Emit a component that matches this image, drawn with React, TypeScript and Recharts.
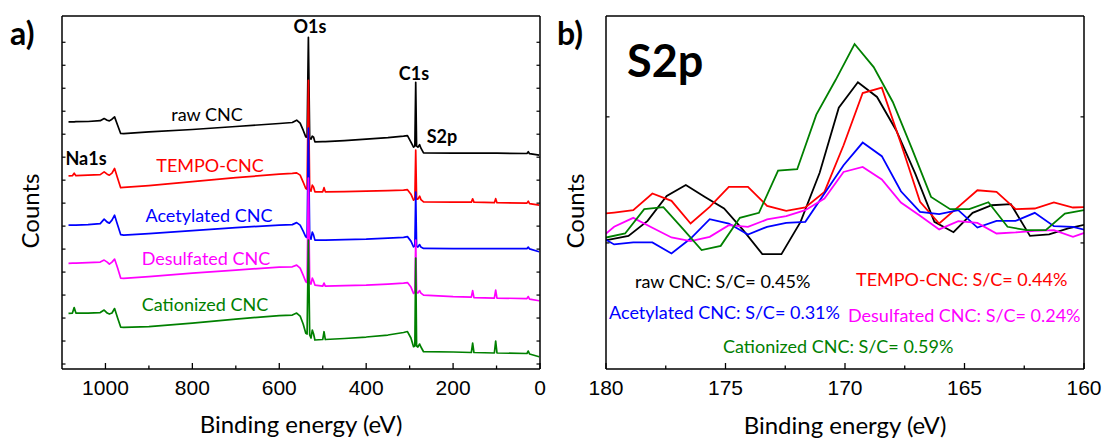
import React from "react";
import { LineChart, Line, XAxis, YAxis } from "recharts";

// ---- panel a) survey spectra ----
const energies = [1085, 1076, 1072, 1068, 1040, 1012, 1003, 996, 991, 985, 979, 972, 965, 958, 900, 800, 700, 600, 570, 560, 552, 545, 539, 536, 533, 530, 527, 524, 521, 518, 500, 497, 494, 450, 400, 350, 314, 305, 297, 291, 288, 286, 284, 281, 277, 274, 268, 200, 158, 155, 152, 105, 102, 99, 30, 27, 24, 2];
const rawCnc = [24730, 24730, 24730, 24750, 24770, 24850, 25070, 24900, 24830, 25000, 25230, 24400, 23570, 23550, 23730, 23970, 24270, 24570, 24670, 24900, 24600, 23900, 23230, 23200, 33200, 23100, 23000, 23300, 23200, 22730, 22750, 22750, 22750, 22850, 23000, 23150, 23300, 23350, 22700, 22200, 22300, 28700, 22300, 22200, 22450, 22100, 21630, 21600, 21600, 21600, 21600, 21600, 21600, 21600, 21570, 21750, 21550, 21400];
const tempoCnc = [19330, 19350, 19600, 19350, 19400, 19450, 19730, 19500, 19400, 19600, 20070, 19100, 18150, 18170, 18350, 18750, 19150, 19500, 19570, 19630, 19400, 18700, 18070, 18000, 28900, 17900, 17800, 18400, 18200, 17730, 17730, 18150, 17730, 17750, 17800, 17850, 17900, 17950, 17500, 16900, 17000, 21900, 17000, 17000, 17300, 16950, 16730, 16700, 16700, 17030, 16700, 16650, 17050, 16650, 16600, 16800, 16550, 16400];
const acetylatedCnc = [14400, 14400, 14400, 14400, 14450, 14550, 15000, 14700, 14600, 14900, 15400, 14400, 13450, 13400, 13550, 13850, 14150, 14400, 14450, 14650, 14400, 13800, 13230, 13150, 24100, 13100, 13000, 13700, 13400, 12900, 12900, 12900, 12900, 12950, 13000, 13100, 13170, 13250, 12800, 12230, 12300, 17700, 12300, 12200, 12450, 12200, 12070, 12050, 12050, 12050, 12050, 12050, 12050, 12050, 12050, 12200, 12020, 11730];
const desulfatedCnc = [10570, 10600, 10600, 10600, 10650, 10700, 10900, 10700, 10500, 10700, 11000, 10100, 9100, 9070, 9250, 9600, 9900, 10200, 10230, 10400, 10100, 9400, 8730, 8650, 19100, 8600, 8500, 9100, 8800, 8400, 8300, 8600, 8300, 8350, 8400, 8500, 8600, 8650, 8200, 7570, 7650, 12900, 7650, 7600, 7850, 7600, 7400, 7250, 7200, 7850, 7150, 7100, 7900, 7100, 7050, 7250, 7000, 6830];
const cationizedCnc = [5570, 5600, 6150, 5600, 5600, 5650, 5900, 5600, 5500, 5600, 6050, 5100, 4200, 4170, 4250, 4600, 5000, 5350, 5400, 5600, 5300, 4500, 3570, 3500, 12900, 3400, 3100, 3900, 3500, 2900, 2950, 3730, 2950, 3050, 3200, 3400, 3650, 3750, 3100, 2230, 2300, 11100, 2300, 2200, 2500, 2200, 1730, 1700, 1650, 2600, 1650, 1600, 2800, 1600, 1550, 1800, 1500, 1230];
const surveyTicks = [0, 100, 200, 300, 400, 500, 600, 700, 800, 900, 1000];
const surveyCountTicks = [500, 2800, 5100, 7400, 9700, 12000, 14300, 16600, 18900, 21200, 23500, 25800, 28100, 30400, 32700];

// ---- panel b) S2p region ----
const s2pEnergyBlack = [180.66, 179.86, 179.06, 178.26, 177.46, 176.66, 175.86, 175.06, 174.26, 173.46, 172.66, 171.86, 171.06, 170.26, 169.46, 168.66, 167.86, 167.06, 166.26, 165.46, 164.66, 163.86, 163.06, 162.26, 161.46, 160.66, 159.86];
const s2pEnergyGreen = [180.0, 179.2, 178.4, 177.6, 176.8, 176.0, 175.2, 174.4, 173.6, 172.8, 172.0, 171.2, 170.4, 169.6, 168.8, 168.0, 167.2, 166.4, 165.6, 164.8, 164.0, 163.2, 162.4, 161.6, 160.8, 160.0];
const s2pEnergyOther = [180.46, 179.66, 178.86, 178.06, 177.26, 176.46, 175.66, 174.86, 174.06, 173.26, 172.46, 171.66, 170.86, 170.06, 169.26, 168.46, 167.66, 166.86, 166.06, 165.26, 164.46, 163.66, 162.86, 162.06, 161.26, 160.46, 159.66];
const s2pRaw = [1000, 1027, 1056, 1175, 1373, 1460, 1365, 1273, 1101, 911, 911, 1167, 1556, 2073, 2274, 2158, 1894, 1550, 1167, 1085, 1239, 1299, 1307, 1056, 1067, 1115, 1149];
const s2pTempo = [1225, 1241, 1260, 1392, 1334, 1154, 1286, 1445, 1445, 1294, 1254, 1281, 1405, 1775, 2189, 2232, 1788, 1326, 1154, 1286, 1418, 1405, 1268, 1273, 1321, 1281, 1286];
const s2pAcetylated = [1075, 988, 1004, 1004, 916, 1035, 1188, 1154, 1067, 1128, 1159, 1167, 1392, 1616, 1796, 1688, 1410, 1247, 1228, 1260, 1122, 1175, 1175, 1239, 1133, 1128, 1088];
const s2pDesulfated = [1001, 1128, 1199, 1120, 1043, 1014, 1048, 1141, 1128, 1186, 1212, 1260, 1352, 1563, 1603, 1503, 1321, 1215, 1107, 1173, 1159, 1075, 1083, 1096, 1101, 1048, 1101];
const s2pCationized = [1043, 1075, 1268, 1284, 1115, 943, 977, 1199, 1239, 1574, 1585, 2018, 2290, 2578, 2395, 2118, 1748, 1365, 1268, 1268, 1323, 1128, 1101, 1101, 1233, 1260];
const s2pTicks = [160, 162.5, 165, 167.5, 170, 172.5, 175, 177.5, 180];
const s2pCountTicks = [1000, 2000];

const FONT = "Lato, 'Open Sans', sans-serif";
const TICK_FONT = "'Liberation Sans', Arial, sans-serif";
const AXIS = { stroke: "#000", strokeWidth: 1.5 };

const surveyData = energies.map((e, i) => ({
  e,
  raw: rawCnc[i],
  tempo: tempoCnc[i],
  acet: acetylatedCnc[i],
  desulf: desulfatedCnc[i],
  cation: cationizedCnc[i],
}));

const pts = (xs: number[], ys: number[]) => xs.map((x, i) => ({ x, y: ys[i] }));

// inward tick marks, labels only on the major ones
function XTick(props: any) {
  const { x, y, payload, step } = props;
  const v = payload.value;
  const major = Math.abs(v / step - Math.round(v / step)) < 1e-6;
  return (
    <g>
      <line x1={x} x2={x} y1={y} y2={y - (major ? 6 : 3.5)} stroke="#000" strokeWidth={1.3} />
      {major && (
        <text x={x} y={y + 26} textAnchor="middle" fontFamily={TICK_FONT} fontSize={21} fill="#000">
          {v}
        </text>
      )}
    </g>
  );
}

function YTick(props: any) {
  const { x, y, side } = props;
  const dx = side === "left" ? 3.5 : -3.5;
  return <line x1={x} x2={x + dx} y1={y} y2={y} stroke="#000" strokeWidth={1.2} />;
}

export default function App() {
  return (
    <div style={{ position: "absolute", left: 0, top: 0, width: 1104, height: 442, background: "#fff" }}>
      <div style={{ position: "absolute", left: 0, top: 0 }}>
        <LineChart width={560} height={442} data={surveyData} margin={{ top: 15, right: 19, bottom: 72, left: 61 }}>
          <XAxis
            dataKey="e"
            type="number"
            domain={[0, 1100]}
            reversed
            ticks={surveyTicks}
            interval={0}
            height={1}
            tickSize={0}
            tickMargin={0}
            tickLine={false}
            axisLine={AXIS}
            tick={(p: any) => <XTick {...p} step={200} />}
          />
          <XAxis xAxisId="top" orientation="top" type="number" domain={[0, 1100]} height={1} tick={false} tickLine={false} axisLine={AXIS} />
          <YAxis
            type="number"
            domain={[0, 35330]}
            ticks={surveyCountTicks}
            interval={0}
            width={1}
            tickSize={0}
            tickMargin={0}
            tickLine={false}
            axisLine={AXIS}
            tick={(p: any) => <YTick {...p} side="left" />}
          />
          <YAxis
            yAxisId="r"
            orientation="right"
            type="number"
            domain={[0, 35330]}
            allowDataOverflow
            ticks={surveyCountTicks}
            interval={0}
            width={1}
            tickSize={0}
            tickMargin={0}
            tickLine={false}
            axisLine={AXIS}
            tick={(p: any) => <YTick {...p} side="right" />}
          />
          <Line type="linear" dataKey="raw" stroke="#000000" strokeWidth={1.7} strokeLinejoin="round" dot={false} isAnimationActive={false} />
          <Line type="linear" dataKey="tempo" stroke="#ff0000" strokeWidth={1.7} strokeLinejoin="round" dot={false} isAnimationActive={false} />
          <Line type="linear" dataKey="acet" stroke="#0000ff" strokeWidth={1.7} strokeLinejoin="round" dot={false} isAnimationActive={false} />
          <Line type="linear" dataKey="desulf" stroke="#ff00ff" strokeWidth={1.7} strokeLinejoin="round" dot={false} isAnimationActive={false} />
          <Line type="linear" dataKey="cation" stroke="#008000" strokeWidth={1.7} strokeLinejoin="round" dot={false} isAnimationActive={false} />
        </LineChart>
      </div>

      <div style={{ position: "absolute", left: 550, top: 0 }}>
        <LineChart width={554} height={442} margin={{ top: 15, right: 19, bottom: 72, left: 55 }}>
          <XAxis
            dataKey="x"
            type="number"
            domain={[160, 180]}
            reversed
            allowDataOverflow
            ticks={s2pTicks}
            interval={0}
            height={1}
            tickSize={0}
            tickMargin={0}
            tickLine={false}
            axisLine={AXIS}
            tick={(p: any) => <XTick {...p} step={5} />}
          />
          <XAxis xAxisId="top" orientation="top" type="number" domain={[160, 180]} height={1} tick={false} tickLine={false} axisLine={AXIS} />
          <YAxis
            type="number"
            domain={[0, 2800]}
            allowDataOverflow
            ticks={s2pCountTicks}
            interval={0}
            width={1}
            tickSize={0}
            tickMargin={0}
            tickLine={false}
            axisLine={AXIS}
            tick={(p: any) => <YTick {...p} side="left" />}
          />
          <YAxis
            yAxisId="r"
            orientation="right"
            type="number"
            domain={[0, 2800]}
            allowDataOverflow
            ticks={s2pCountTicks}
            interval={0}
            width={1}
            tickSize={0}
            tickMargin={0}
            tickLine={false}
            axisLine={AXIS}
            tick={(p: any) => <YTick {...p} side="right" />}
          />
          <Line data={pts(s2pEnergyBlack, s2pRaw)} dataKey="y" stroke="#000000" strokeWidth={1.8} dot={false} isAnimationActive={false} />
          <Line data={pts(s2pEnergyOther, s2pTempo)} dataKey="y" stroke="#ff0000" strokeWidth={1.8} dot={false} isAnimationActive={false} />
          <Line data={pts(s2pEnergyOther, s2pAcetylated)} dataKey="y" stroke="#0000ff" strokeWidth={1.8} dot={false} isAnimationActive={false} />
          <Line data={pts(s2pEnergyOther, s2pDesulfated)} dataKey="y" stroke="#ff00ff" strokeWidth={1.8} dot={false} isAnimationActive={false} />
          <Line data={pts(s2pEnergyGreen, s2pCationized)} dataKey="y" stroke="#008000" strokeWidth={1.8} dot={false} isAnimationActive={false} />
        </LineChart>
      </div>

      <svg width={1104} height={442} style={{ position: "absolute", left: 0, top: 0, pointerEvents: "none" }} fontFamily={FONT}>
        {/* panel a */}
        <text x={10} y={45} fontSize={32} fontWeight={700}>a)</text>
        <text x={39} y={211} fontSize={24} textAnchor="middle" transform="rotate(-90 39 211)">Counts</text>
        <text x={301} y={433} fontSize={24} textAnchor="middle">Binding energy (eV)</text>
        <g fontSize={18} fontWeight={700} textAnchor="middle">
          <text x={310} y={33}>O1s</text>
          <text x={414} y={80}>C1s</text>
          <text x={442} y={143}>S2p</text>
          <text x={86} y={165}>Na1s</text>
        </g>
        <g fontSize={18} textAnchor="middle">
          <text x={207} y={121} fill="#000000">raw CNC</text>
          <text x={210} y={172} fill="#ff0000">TEMPO-CNC</text>
          <text x={209} y={222} fill="#0000ff">Acetylated CNC</text>
          <text x={206} y={265} fill="#ff00ff">Desulfated CNC</text>
          <text x={205} y={311} fill="#008000">Cationized CNC</text>
        </g>

        {/* panel b */}
        <text x={557} y={45} fontSize={32} fontWeight={700}>b)</text>
        <text x={584} y={211} fontSize={24} textAnchor="middle" transform="rotate(-90 584 211)">Counts</text>
        <text x={845} y={434} fontSize={24} textAnchor="middle">Binding energy (eV)</text>
        <text x={627} y={77} fontSize={45} fontWeight={700}>S2p</text>
        <g fontSize={18}>
          <text x={635} y={288} fill="#000000">raw CNC: S/C= 0.45%</text>
          <text x={856} y={286} fill="#ff0000">TEMPO-CNC: S/C= 0.44%</text>
          <text x={609} y={319} fill="#0000ff">Acetylated CNC: S/C= 0.31%</text>
          <text x={848} y={322} fill="#ff00ff">Desulfated CNC: S/C= 0.24%</text>
          <text x={723} y={353} fill="#008000">Cationized CNC: S/C= 0.59%</text>
        </g>
      </svg>
    </div>
  );
}
